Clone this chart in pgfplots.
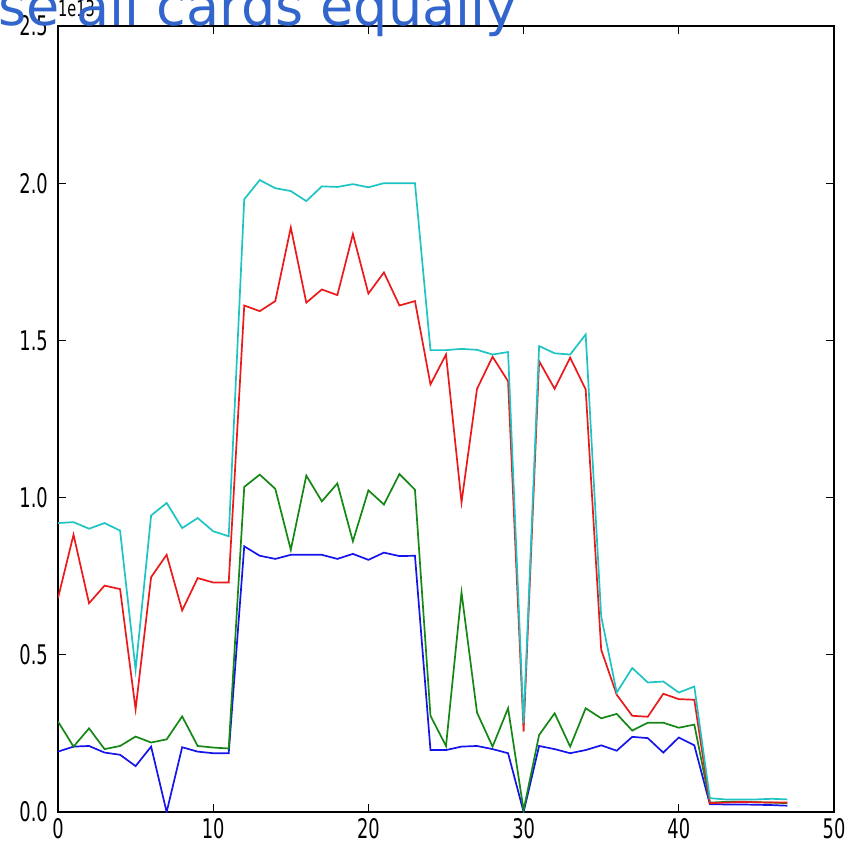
\documentclass[border=0pt]{standalone}
\usepackage{fontspec}
\usepackage{pgfplots}
\usepackage{pgfplotstable}
\pgfplotsset{compat=1.18}
\setmainfont{DejaVu Sans}
\newfontfamily\tickfont{DejaVu Sans}[FakeStretch=0.66]
\definecolor{mplb}{RGB}{20,20,235}
\definecolor{mplg}{RGB}{20,135,20}
\definecolor{mplr}{RGB}{235,25,25}
\definecolor{mplc}{RGB}{30,195,195}
\definecolor{titleblue}{RGB}{51,102,204}

\pgfplotstableread{
x b g r c
0 0.192 0.288 0.680 0.919
1 0.208 0.208 0.882 0.922
2 0.210 0.266 0.664 0.901
3 0.189 0.200 0.720 0.919
4 0.182 0.210 0.709 0.895
5 0.146 0.240 0.327 0.452
6 0.208 0.221 0.747 0.943
7 0.000 0.231 0.818 0.983
8 0.206 0.304 0.641 0.903
9 0.192 0.210 0.744 0.935
10 0.187 0.205 0.730 0.893
11 0.187 0.202 0.730 0.877
12 0.845 1.034 1.611 1.949
13 0.815 1.073 1.593 2.010
14 0.805 1.028 1.625 1.984
15 0.818 0.834 1.859 1.975
16 0.818 1.070 1.620 1.943
17 0.818 0.988 1.662 1.990
18 0.805 1.045 1.644 1.988
19 0.821 0.861 1.838 1.997
20 0.802 1.023 1.649 1.987
21 0.825 0.978 1.716 2.000
22 0.814 1.075 1.611 2.000
23 0.815 1.025 1.625 2.000
24 0.197 0.306 1.360 1.469
25 0.197 0.210 1.455 1.469
26 0.208 0.698 0.985 1.473
27 0.210 0.316 1.346 1.470
28 0.200 0.208 1.448 1.455
29 0.187 0.330 1.370 1.463
30 0.000 0.006 0.256 0.282
31 0.210 0.245 1.434 1.482
32 0.200 0.314 1.346 1.459
33 0.187 0.208 1.445 1.455
34 0.197 0.330 1.344 1.519
35 0.212 0.298 0.516 0.622
36 0.195 0.312 0.373 0.380
37 0.239 0.259 0.306 0.458
38 0.235 0.284 0.303 0.412
39 0.189 0.284 0.376 0.415
40 0.237 0.268 0.359 0.380
41 0.212 0.278 0.357 0.399
42 0.025 0.030 0.028 0.044
43 0.024 0.032 0.030 0.040
44 0.024 0.033 0.032 0.040
45 0.023 0.031 0.031 0.040
46 0.022 0.030 0.030 0.042
47 0.020 0.028 0.030 0.040
}\datatable

\begin{document}
\begin{tikzpicture}
\useasboundingbox (0,0) rectangle (856pt,851pt);
\begin{axis}[
  at={(58pt,39pt)}, anchor=south west,
  scale only axis, width=776pt, height=786pt,
  xmin=0, xmax=50, ymin=0, ymax=2.5,
  xtick={0,10,20,30,40,50},
  ytick={0,0.5,1,1.5,2,2.5},
  minor tick num=0,
  tick align=inside,
  major tick length=8pt,
  scaled ticks=false,
  /pgf/number format/assume math mode=true,
  tick label style={font={\tickfont\fontsize{27}{27}\selectfont}, inner sep=0pt},
  xticklabel style={yshift=-6pt},
  yticklabel style={xshift=-10pt, /pgf/number format/.cd, fixed, fixed zerofill, precision=1},
  axis line style={line width=1.3pt},
  every tick/.style={black, line width=1pt},
  clip=true,
]
\addplot[mplb, line width=1.7pt] table[x=x, y=b] {\datatable};
\addplot[mplg, line width=1.7pt] table[x=x, y=g] {\datatable};
\addplot[mplr, line width=1.7pt] table[x=x, y=r] {\datatable};
\addplot[mplc, line width=1.7pt] table[x=x, y=c] {\datatable};
\end{axis}
\node[anchor=base west, inner sep=0pt, font={\tickfont\fontsize{22}{22}\selectfont}] at (58pt,834pt) {1e13};
\node[anchor=base west, inner sep=0pt, text=titleblue, font={\fontsize{54}{60}\selectfont}] at (-2pt,825pt) {\llap{U}se all cards equally};
\end{tikzpicture}
\end{document}
